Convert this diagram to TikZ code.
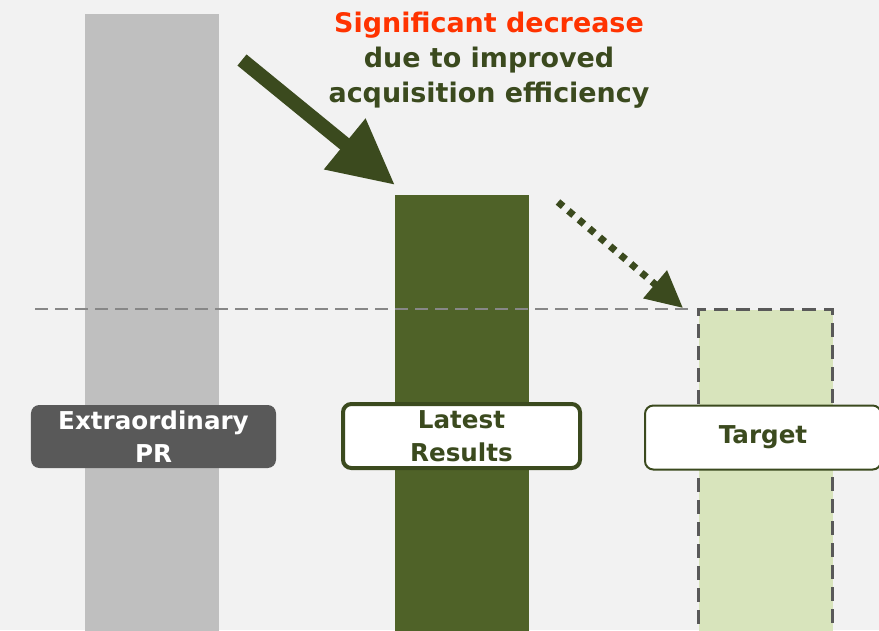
\documentclass[tikz,border=0pt]{standalone}
\usepackage{fontspec}
\setmainfont{DejaVu Sans}
\usepackage{tikz}
\usetikzlibrary{arrows.meta}

\definecolor{bggray}{HTML}{F2F2F2}
\definecolor{prgray}{HTML}{BFBFBF}
\definecolor{latestgreen}{HTML}{4F6228}
\definecolor{targetgreen}{HTML}{D8E4BC}
\definecolor{darkolive}{HTML}{3B4A1E}
\definecolor{labelgray}{HTML}{595959}
\definecolor{hotred}{HTML}{FF3300}

\begin{document}
\begin{tikzpicture}[x=0.03cm, y=-0.03cm,
    bar/.style={draw=none, inner sep=0pt, minimum width=4.02cm, anchor=north west},
    tag/.style={rounded corners=0.25cm, inner sep=0pt, align=center,
                font=\fontsize{21}{28}\selectfont\bfseries},
    refline/.style={draw=black!47, line width=0.045cm, dash pattern=on 0.4cm off 0.2cm},
    bigarrow/.style={draw=darkolive, line width=0.43cm,
                     -{Triangle[length=1.95cm,width=1.85cm]}},
    dotarrow/.style={draw=darkolive, line width=0.21cm, dash pattern=on 0.2cm off 0.21cm,
                     -{Triangle[length=1.1cm,width=1.05cm]}}]
    \fill[bggray] (0,0) rectangle (879,630);
    \useasboundingbox (0,0) rectangle (879,630);

    \node[bar, fill=prgray, minimum height=18.6cm] (prbar) at (85,14) {};
    \node[bar, fill=latestgreen, minimum height=13.2cm] (latestbar) at (395,195) {};
    \node[bar, fill=targetgreen, draw=labelgray, line width=0.1cm,
          dash pattern=on 0.42cm off 0.24cm, minimum height=10cm] (targetbar) at (697,308) {};

    \node[align=center, text=darkolive, font=\fontsize{23}{29.9}\selectfont\bfseries]
         (note) at (489,60) {\textcolor{hotred}{Significant decrease}\\due to improved\\acquisition efficiency};

    \node[tag, fill=labelgray, text=white, minimum width=7.35cm, minimum height=1.89cm]
         (prtag) at (153.5,436.5) {Extraordinary\\PR};
    \node[tag, fill=white, draw=darkolive, line width=0.12cm, text=darkolive,
          minimum width=7.11cm, minimum height=1.92cm]
         (latesttag) at (461.5,436) {Latest\\Results};
    \node[tag, fill=white, draw=darkolive, line width=0.06cm, text=darkolive,
          minimum width=7.08cm, minimum height=1.92cm]
         (targettag) at (763,437.5) {Target};

    %edges
    \coordinate (refstart) at (35,309);
    \coordinate (bigstart) at (242,60);
    \coordinate (bigend) at (395,185);
    \coordinate (dotstart) at (558,202);
    \coordinate (dotend) at (683,308);

    \draw[refline] (refstart) to ([xshift=-0.2cm]targetbar.west |- refstart);
    \draw[bigarrow] (bigstart) to (bigend);
    \draw[dotarrow] (dotstart) to (dotend);
\end{tikzpicture}
\end{document}
